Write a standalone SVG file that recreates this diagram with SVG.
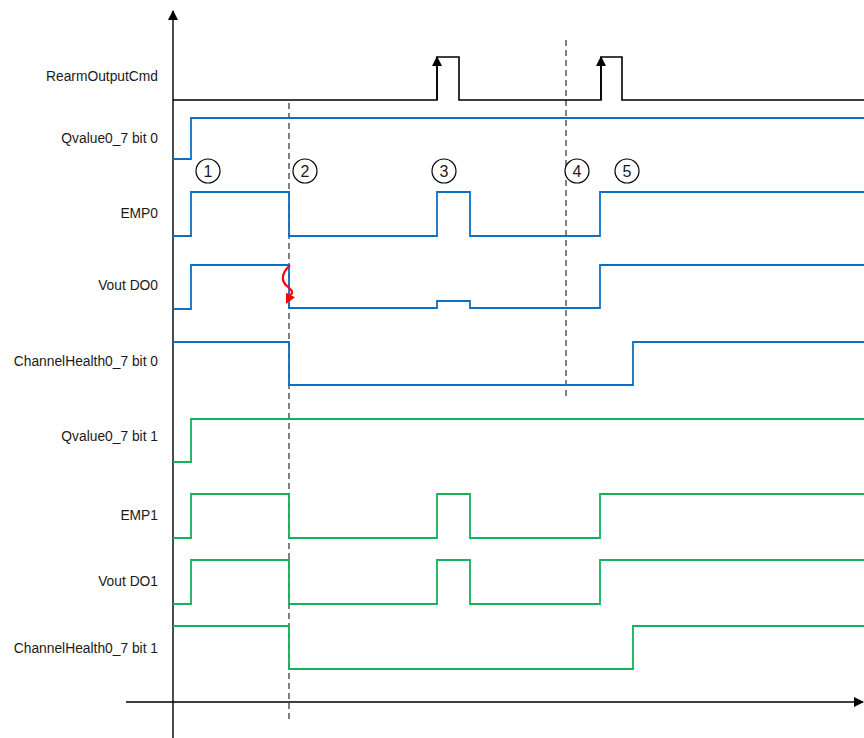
<svg xmlns="http://www.w3.org/2000/svg" width="864" height="738" viewBox="0 0 864 738">
<style>
.lbl{font-family:"Liberation Sans",Arial,sans-serif;font-size:13.8px;fill:#1a1a1a;text-anchor:end}
.num{font-family:"Liberation Sans",Arial,sans-serif;font-size:16px;fill:#1a1a1a;text-anchor:middle}
.blue{fill:none;stroke:#0B70C4;stroke-width:1.8}
.green{fill:none;stroke:#12B25A;stroke-width:1.8}
.blk{fill:none;stroke:#000;stroke-width:1.6}
.dash{fill:none;stroke:#808080;stroke-width:2;stroke-dasharray:6,4}
.circ{fill:#fff;stroke:#000;stroke-width:1.2}
</style>
<defs>
<marker id="ah" markerWidth="10" markerHeight="10" refX="9" refY="5" orient="auto" markerUnits="userSpaceOnUse">
<path d="M0,0 L10,5 L0,10 Z" fill="#000"/>
</marker>
</defs>
<g id="axes">
<line x1="173" y1="738" x2="173" y2="11" stroke="#000" stroke-width="1.4" marker-end="url(#ah)"/>
<line x1="126" y1="702" x2="863" y2="702" stroke="#000" stroke-width="1.4" marker-end="url(#ah)"/>
</g>
<g id="labels">
<text class="lbl" x="158" y="81">RearmOutputCmd</text>
<text class="lbl" x="158" y="143">Qvalue0_7 bit 0</text>
<text class="lbl" x="158" y="218">EMP0</text>
<text class="lbl" x="158" y="290">Vout DO0</text>
<text class="lbl" x="158" y="366">ChannelHealth0_7 bit 0</text>
<text class="lbl" x="158" y="441">Qvalue0_7 bit 1</text>
<text class="lbl" x="158" y="520">EMP1</text>
<text class="lbl" x="158" y="586">Vout DO1</text>
<text class="lbl" x="158" y="653">ChannelHealth0_7 bit 1</text>
</g>
<g id="markers-dashed">
<line class="dash" x1="289" y1="103" x2="289" y2="720"/>
<line class="dash" x1="566" y1="40" x2="566" y2="396"/>
</g>
<g id="connectors">
<polyline id="rearm" class="blk" points="173,100 437,100 437,57 459,57 459,100 601,100 601,57 622,57 622,100 864,100"/>
<line x1="437" y1="100" x2="437" y2="57" stroke="#000" stroke-width="1.6" marker-end="url(#ah)"/>
<line x1="601" y1="100" x2="601" y2="57" stroke="#000" stroke-width="1.6" marker-end="url(#ah)"/>
<polyline id="qv0" class="blue" points="173,159 191,159 191,118 864,118"/>
<polyline id="emp0" class="blue" points="173,236 191,236 191,192 289,192 289,236 437,236 437,192 470,192 470,236 600,236 600,192 864,192"/>
<polyline id="vout0" class="blue" points="173,309 191,309 191,265 289,265 289,308 437,308 437,301 470,301 470,308 600,308 600,265 864,265"/>
<polyline id="ch0" class="blue" points="173,342 289,342 289,385 633,385 633,342 864,342"/>
<polyline id="qv1" class="green" points="173,462 191,462 191,419 864,419"/>
<polyline id="emp1" class="green" points="173,538 191,538 191,494 289,494 289,538 437,538 437,494 470,494 470,538 600,538 600,494 864,494"/>
<polyline id="vout1" class="green" points="173,604 191,604 191,560 289,560 289,604 437,604 437,560 470,560 470,604 600,604 600,560 864,560"/>
<polyline id="ch1" class="green" points="173,626 289,626 289,669 633,669 633,626 864,626"/>
<g id="squiggle">
<path d="M290,265 C281,274 281,281 287,286 C293,291 293,293 290.5,295" fill="none" stroke="#f00" stroke-width="2.2"/>
<polygon points="286,304 295,297.2 286,292.8" fill="#f00"/>
</g>
</g>
<g id="n1"><circle class="circ" cx="208" cy="171" r="12"/><text class="num" x="208" y="177">1</text></g>
<g id="n2"><circle class="circ" cx="305" cy="171" r="12"/><text class="num" x="305" y="177">2</text></g>
<g id="n3"><circle class="circ" cx="444" cy="171" r="12"/><text class="num" x="444" y="177">3</text></g>
<g id="n4"><circle class="circ" cx="577" cy="171" r="12"/><text class="num" x="577" y="177">4</text></g>
<g id="n5"><circle class="circ" cx="627" cy="171" r="12"/><text class="num" x="627" y="177">5</text></g>
</svg>
